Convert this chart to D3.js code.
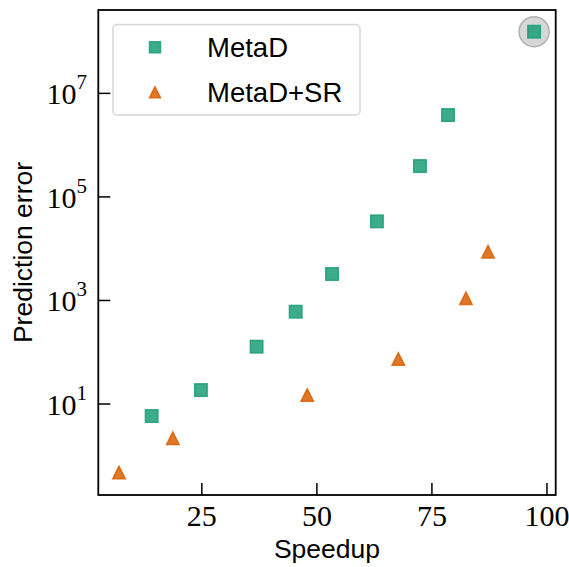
<!DOCTYPE html>
<html><head><meta charset="utf-8">
<script src="https://cdn.jsdelivr.net/npm/d3@7"></script>
<style>body{margin:0;background:#fff}svg{display:block}</style>
</head><body>
<svg id="c" width="569" height="567"></svg>
<script>
const metaDSpeedup = [14.1, 24.8, 36.9, 45.4, 53.3, 63.05, 72.4, 78.5, 97.2];
const metaDError   = [5.86, 18.6, 128, 607, 3240, 33700, 394000, 3.81e6, 1.55e8];
const srSpeedup    = [7.0, 18.7, 47.9, 67.7, 82.4, 87.2];
const srError      = [0.475, 2.18, 14.9, 74, 1100, 8730];
const xTicks = [25, 50, 75, 100];
const yTickExps = [1, 3, 5, 7];
const seriesNames = ["MetaD", "MetaD+SR"];
const colors = ["#1b9e77", "#d95f02"];

const svg = d3.select("#c");
const L = 98.3, R = 555.7, T = 10, B = 495;
const x = d3.scaleLinear().domain([2.5, 101.9]).range([L, R]);
const y = d3.scaleLog().domain([Math.pow(10, -0.757), Math.pow(10, 8.61)]).range([B, T]);

const serif = "'Liberation Serif', 'DejaVu Serif', serif";
const sans = "'Liberation Sans', 'DejaVu Sans', sans-serif";

const sq = 12.5;
const g = svg.append("g");
const last = metaDSpeedup.length - 1;
g.append("circle").attr("cx", x(metaDSpeedup[last])).attr("cy", y(metaDError[last]))
  .attr("r", 15).attr("fill", "#d3d3d3").attr("stroke", "#a9a9a9").attr("stroke-width", 1.5).attr("opacity", 0.9);

g.selectAll("rect.m").data(metaDSpeedup.map((s, i) => [s, metaDError[i]])).join("rect")
  .attr("x", d => x(d[0]) - sq / 2).attr("y", d => y(d[1]) - sq / 2)
  .attr("width", sq).attr("height", sq)
  .attr("fill", colors[0]).attr("fill-opacity", 0.85)
  .attr("stroke", colors[0]).attr("stroke-opacity", 0.85).attr("stroke-width", 1.5);

const tri = (cx, cy, h) => `M${cx},${cy - h / 2}L${cx + h / 2},${cy + h / 2}L${cx - h / 2},${cy + h / 2}Z`;
g.selectAll("path.t").data(srSpeedup.map((s, i) => [s, srError[i]])).join("path")
  .attr("d", d => tri(x(d[0]), y(d[1]), 12.5))
  .attr("fill", colors[1]).attr("fill-opacity", 0.85)
  .attr("stroke", colors[1]).attr("stroke-opacity", 0.85).attr("stroke-width", 1.5);

svg.append("rect").attr("x", L).attr("y", T).attr("width", R - L).attr("height", B - T)
  .attr("fill", "none").attr("stroke", "#000").attr("stroke-width", 1.8);

const xAxis = svg.append("g");
xTicks.forEach(t => {
  xAxis.append("line").attr("x1", x(t)).attr("x2", x(t)).attr("y1", B).attr("y2", B - 12)
    .attr("stroke", "#000").attr("stroke-width", 1.5);
  xAxis.append("text").attr("x", x(t)).attr("y", 526).attr("text-anchor", "middle")
    .attr("font-family", serif).attr("font-size", 30).text(t);
});
const yAxis = svg.append("g");
yTickExps.forEach(e => {
  const yy = y(Math.pow(10, e));
  yAxis.append("line").attr("x1", L).attr("x2", L + 12).attr("y1", yy).attr("y2", yy)
    .attr("stroke", "#000").attr("stroke-width", 1.5);
  const t = yAxis.append("text").attr("x", 87).attr("y", yy + 11).attr("text-anchor", "end")
    .attr("font-family", serif).attr("font-size", 30);
  t.append("tspan").text("10");
  t.append("tspan").attr("dy", -15).attr("font-size", 21).text(e);
});

svg.append("text").attr("x", (L + R) / 2).attr("y", 558).attr("text-anchor", "middle")
  .attr("font-family", sans).attr("font-size", 26.5).text("Speedup");
svg.append("text").attr("transform", `translate(32,${(T + B) / 2}) rotate(-90)`)
  .attr("text-anchor", "middle").attr("font-family", sans).attr("font-size", 26.5).text("Prediction error");

const lg = svg.append("g");
lg.append("rect").attr("x", 113).attr("y", 24.5).attr("width", 247).attr("height", 90.5)
  .attr("rx", 4).attr("fill", "#fff").attr("fill-opacity", 0.8).attr("stroke", "#d6d6d6").attr("stroke-width", 1.5);
const rows = [47.3, 92.3];
lg.append("rect").attr("x", 155 - 5.5).attr("y", rows[0] - 5.5).attr("width", 11).attr("height", 11)
  .attr("fill", colors[0]).attr("fill-opacity", 0.85).attr("stroke", colors[0]).attr("stroke-opacity", 0.85).attr("stroke-width", 1.5);
lg.append("path").attr("d", tri(155, rows[1], 11))
  .attr("fill", colors[1]).attr("fill-opacity", 0.85).attr("stroke", colors[1]).attr("stroke-opacity", 0.85).attr("stroke-width", 1.5);
seriesNames.forEach((n, i) => {
  lg.append("text").attr("x", 207).attr("y", rows[i] + 9.5).attr("font-family", sans).attr("font-size", 27.5).text(n);
});
</script>
</body></html>
